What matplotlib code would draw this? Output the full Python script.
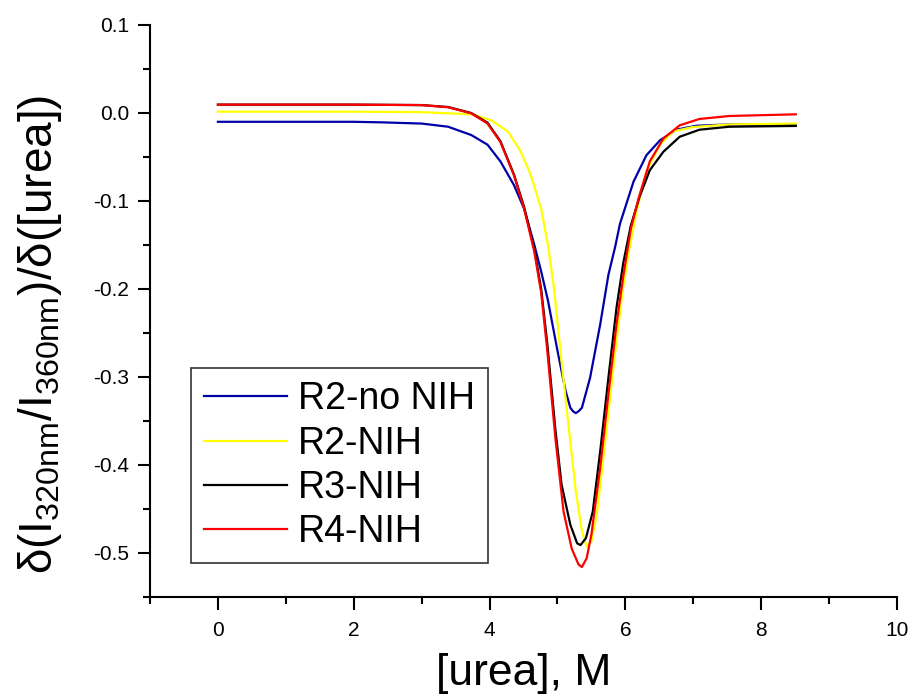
import matplotlib
matplotlib.use("Agg")
import matplotlib.pyplot as plt
from matplotlib.ticker import MultipleLocator, FormatStrFormatter

plt.rcParams['font.family'] = ['Liberation Sans', 'DejaVu Sans']
plt.rcParams['mathtext.fontset'] = 'custom'
plt.rcParams['mathtext.rm'] = 'Liberation Sans'
plt.rcParams['mathtext.it'] = 'Liberation Sans'
plt.rcParams['mathtext.bf'] = 'Liberation Sans'

# R2-no NIH
x_blue = [0.0, 1.0, 2.0, 2.4, 3.0, 3.39, 3.73, 3.97, 4.16, 4.36, 4.51, 4.66, 4.76, 4.86,
          5.00, 5.12, 5.19, 5.23, 5.27, 5.31, 5.36, 5.48, 5.63, 5.75, 5.85, 5.92, 6.12,
          6.31, 6.51, 6.75, 7.04, 7.53, 8.51]
y_blue = [-0.010, -0.010, -0.010, -0.0106, -0.012, -0.0156, -0.025, -0.036, -0.055, -0.082,
          -0.109, -0.150, -0.180, -0.213, -0.270, -0.316, -0.335, -0.339, -0.341, -0.339,
          -0.335, -0.301, -0.240, -0.184, -0.152, -0.126, -0.078, -0.048, -0.031, -0.019,
          -0.0145, -0.013, -0.0137]

# R2-NIH
x_yellow = [0.0, 1.0, 2.0, 3.0, 3.73, 4.02, 4.27, 4.46, 4.61, 4.76, 4.86, 4.95, 5.05, 5.15,
            5.27, 5.36, 5.43, 5.50, 5.58, 5.70, 5.83, 5.96, 6.05, 6.17, 6.31, 6.51, 6.70,
            6.99, 7.53, 8.51]
y_yellow = [0.0015, 0.0015, 0.0015, 0.001, -0.0015, -0.008, -0.021, -0.044, -0.071, -0.109,
            -0.150, -0.200, -0.275, -0.346, -0.430, -0.475, -0.493, -0.487, -0.456, -0.376,
            -0.285, -0.202, -0.158, -0.110, -0.066, -0.036, -0.021, -0.016, -0.013, -0.012]

# R3-NIH
x_black = [0.0, 1.0, 2.0, 3.0, 3.39, 3.73, 3.97, 4.16, 4.36, 4.51, 4.66, 4.76, 4.85, 4.97,
           5.06, 5.19, 5.29, 5.34, 5.42, 5.52, 5.63, 5.75, 5.87, 5.97, 6.08, 6.21, 6.36,
           6.56, 6.80, 7.09, 7.53, 8.51]
y_black = [0.0095, 0.0095, 0.0095, 0.009, 0.0068, 0.000, -0.011, -0.032, -0.070, -0.107,
           -0.155, -0.200, -0.262, -0.360, -0.422, -0.468, -0.489, -0.491, -0.483, -0.453,
           -0.384, -0.301, -0.221, -0.170, -0.128, -0.095, -0.065, -0.044, -0.027, -0.019,
           -0.0156, -0.0147]

# R4-NIH
x_red = [0.0, 1.0, 2.0, 3.0, 3.39, 3.73, 3.97, 4.16, 4.36, 4.51, 4.66, 4.76, 4.85, 4.97,
         5.09, 5.21, 5.31, 5.36, 5.43, 5.50, 5.63, 5.75, 5.87, 5.97, 6.08, 6.19, 6.36,
         6.56, 6.80, 7.09, 7.53, 8.51]
y_red = [0.0095, 0.0095, 0.0095, 0.009, 0.0065, -0.0004, -0.012, -0.033, -0.071, -0.109,
         -0.158, -0.204, -0.270, -0.370, -0.453, -0.495, -0.513, -0.516, -0.506, -0.479,
         -0.403, -0.320, -0.240, -0.185, -0.132, -0.098, -0.055, -0.029, -0.014, -0.0068,
         -0.0034, -0.0015]

labels = ["R2-no NIH", "R2-NIH", "R3-NIH", "R4-NIH"]
colors = ["#0000a8", "#ffff00", "#000000", "#ff0000"]

fig = plt.figure(figsize=(9.12, 7.0), dpi=100)
ax = fig.add_axes([150/912, 1 - 597/700, 747/912, 572/700])

series = [(x_blue, y_blue), (x_yellow, y_yellow), (x_black, y_black), (x_red, y_red)]
for (xs, ys), lab, c in zip(series, labels, colors):
    ax.plot(xs, ys, color=c, lw=1.6, label=lab, solid_joinstyle='round')

ax.set_xlim(-1, 10)
ax.set_ylim(-0.55, 0.1)
ax.xaxis.set_major_locator(MultipleLocator(2))
ax.xaxis.set_minor_locator(MultipleLocator(1))
ax.yaxis.set_major_locator(MultipleLocator(0.1))
ax.yaxis.set_minor_locator(MultipleLocator(0.05))
ax.yaxis.set_major_formatter(FormatStrFormatter('%.1f'))

for s in ['top', 'right']:
    ax.spines[s].set_visible(False)
for s in ['left', 'bottom']:
    ax.spines[s].set_linewidth(1.5)

ax.tick_params(which='major', direction='out', length=9, width=1.5, labelsize=15, pad=6)
ax.tick_params(which='minor', direction='out', length=5, width=1.5)
ax.tick_params(axis='x', which='major', pad=8)

ax.set_xlabel("[urea], M", fontsize=32, labelpad=10)
ax.set_ylabel(r"$\delta(\mathrm{I}_{320nm}/\mathrm{I}_{360nm})/\delta([\mathrm{urea}])$",
              fontsize=33)
ax.yaxis.set_label_coords(-0.115, 0.46)

leg = ax.legend(loc='lower left', bbox_to_anchor=(0.055, 0.059), borderaxespad=0,
                fontsize=27, frameon=True, fancybox=False, handlelength=2.2,
                handletextpad=0.3, labelspacing=0.22, borderpad=0.35)
leg.get_frame().set_edgecolor('black')
leg.get_frame().set_linewidth(1.2)

fig.savefig("out.png", dpi=100)
